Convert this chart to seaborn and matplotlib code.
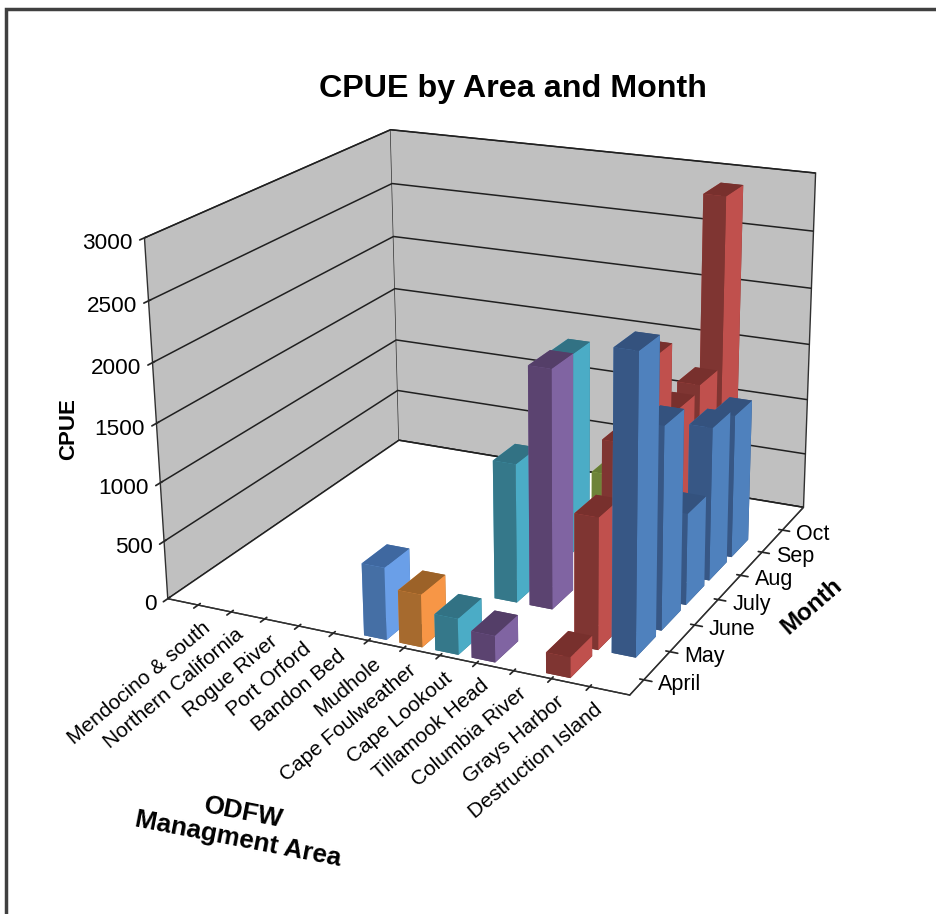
# Import the packages
import numpy as np
import pandas as pd
import matplotlib
matplotlib.use("Agg")
import matplotlib.pyplot as plt
from matplotlib.patches import Rectangle
from mpl_toolkits.mplot3d import proj3d
import seaborn as sns

# The data
areas = ["Mendocino & south", "Northern California", "Rogue River", "Port Orford",
         "Bandon Bed", "Mudhole", "Cape Foulweather", "Cape Lookout",
         "Tillamook Head", "Columbia River", "Grays Harbor", "Destruction Island"]
months = ["April", "May", "June", "July", "Aug", "Sep", "Oct"]
cpue_ticks = [0, 500, 1000, 1500, 2000, 2500, 3000]

bar_area = ["Mudhole", "Cape Foulweather", "Cape Lookout", "Cape Lookout", "Cape Lookout",
            "Tillamook Head", "Tillamook Head", "Columbia River",
            "Grays Harbor", "Grays Harbor", "Grays Harbor", "Grays Harbor",
            "Grays Harbor", "Grays Harbor", "Grays Harbor",
            "Destruction Island", "Destruction Island", "Destruction Island",
            "Destruction Island", "Destruction Island"]
bar_month = ["April", "April", "April", "June", "Aug",
             "April", "June", "July",
             "April", "May", "June", "July", "Aug", "Sep", "Oct",
             "May", "June", "July", "Aug", "Sep"]
bar_cpue = [605, 440, 300, 1180, 1750,
            220, 2010, 1000,
            170, 1090, 1500, 2020, 1420, 1470, 2930,
            2440, 1690, 780, 1320, 1250]

# Front, side and top shades of each area's bars
shades = {
    "Mudhole": ("#456FA5", "#6A9FE8", "#3F68A0"),
    "Cape Foulweather": ("#A66A2E", "#F79646", "#9C6228"),
    "Cape Lookout": ("#35788A", "#4BACC6", "#327284"),
    "Tillamook Head": ("#5B4370", "#8064A2", "#543E68"),
    "Columbia River": ("#6E8439", "#9BBB59", "#667C34"),
    "Grays Harbor": ("#7F3532", "#C0504D", "#78302D"),
    "Destruction Island": ("#375785", "#4F81BD", "#34527E"),
}

details = pd.DataFrame({"Area": bar_area, "Month": bar_month, "CPUE": bar_cpue})
details["x"] = details["Area"].map(areas.index)
details["y"] = details["Month"].map(months.index)

# Back rows first, so the nearer bars are painted over them
details = details.sort_values(["y", "x"], ascending=[False, True]).reset_index(drop=True)

sns.set_theme(style="white")
plt.rcParams["font.family"] = ["Liberation Sans", "DejaVu Sans"]

px = 4087.86  # screen pixels per projected unit
fig = plt.figure(figsize=(9.37, 9.14), dpi=100)
ax = fig.add_axes([109 / 937, 143.5 / 914, 756.3 / 937, 756.3 / 914],
                  projection="3d", computed_zorder=False)
ax.set_xlim(-0.93, 12.03, view_margin=0)
ax.set_ylim(-0.52, 7.08, view_margin=0)
ax.set_zlim(0, 3000, view_margin=0)
ax.view_init(elev=19.374, azim=-63.87, roll=0.669)
ax.set_proj_type("persp", focal_length=0.5585)
ax.set_box_aspect((1.3367, 1.3051, 1))
ax.patch.set_alpha(0)

# Walls and floor
wall = "#C0C0C0"
ax.xaxis.set_pane_color(wall)
ax.yaxis.set_pane_color(wall)
ax.zaxis.set_pane_color("white")
for axis in (ax.xaxis, ax.yaxis, ax.zaxis):
    axis.pane.set_edgecolor("#303030")
    axis.pane.set_linewidth(1.0)
    axis.line.set_color("#303030")
    axis.line.set_linewidth(1.0)

ax.grid(True)
ax.xaxis._axinfo["grid"]["linewidth"] = 0
ax.yaxis._axinfo["grid"]["linewidth"] = 0
ax.zaxis._axinfo["grid"].update(color="#202020", linewidth=1.1)

# Ticks
ax.set_xticks(range(len(areas)))
ax.set_yticks(range(len(months)))
ax.set_zticks(cpue_ticks)
ax.set_xticklabels([])
ax.set_yticklabels([])
ax.set_zticklabels([])
ax.zaxis.set_ticks_position("lower")

# Bars
bar_w = 0.64
bar_d = 0.78
for i, row in details.iterrows():
    front, side, top = shades[row["Area"]]
    ax.bar3d(row["x"] - bar_w / 2 + 0.08, row["y"] - bar_d / 2, 0, bar_w, bar_d, row["CPUE"],
             color=[top, top, front, front, side, side], shade=False,
             linewidth=0, zorder=10 + i)


# Axis labels are placed at the projected tick, plus an offset in pixels
def label_at(x, y, z, dx, dy, text, size, **kwargs):
    sx, sy, _ = proj3d.proj_transform(x, y, z, ax.get_proj())
    ax.text2D(sx + dx / px, sy + dy / px, text, transform=ax.transData, color="black",
              fontsize=size, zorder=100, **kwargs)


for i, area in enumerate(areas):
    label_at(i, -0.52, 0, 4, -13, area, 15, rotation=40, ha="right", va="top",
             rotation_mode="anchor")
for j, month in enumerate(months):
    label_at(12.03, j, 0, 14, -4.5, month, 15.5, ha="left", va="center")
for value in cpue_ticks:
    label_at(-0.93, -0.52, value, -11.5, -6, str(value), 16.2, ha="right", va="center")

# Titles
fig.text(513 / 937, 1 - 89 / 914, "CPUE by Area and Month", fontsize=23.2, fontweight="bold",
         ha="center", va="center", color="black")
fig.text(69 / 937, 1 - 429 / 914, "CPUE", fontsize=16, fontweight="bold", rotation=90,
         ha="center", va="center", color="black")
fig.text(812 / 937, 1 - 606 / 914, "Month", fontsize=17.5, fontweight="bold", rotation=41,
         ha="center", va="center", color="black")
fig.text(241 / 937, 1 - 826 / 914, "ODFW\nManagment Area", fontsize=18.8, fontweight="bold",
         rotation=-11, ha="center", va="center", color="black", linespacing=1.2)

# Page frame on the top and left
fig.add_artist(Rectangle((6 / 937, -0.1), 2, 1.09, transform=fig.transFigure, fill=False,
                         edgecolor="#404040", linewidth=2.5))

fig.savefig("out.png", dpi=100)
